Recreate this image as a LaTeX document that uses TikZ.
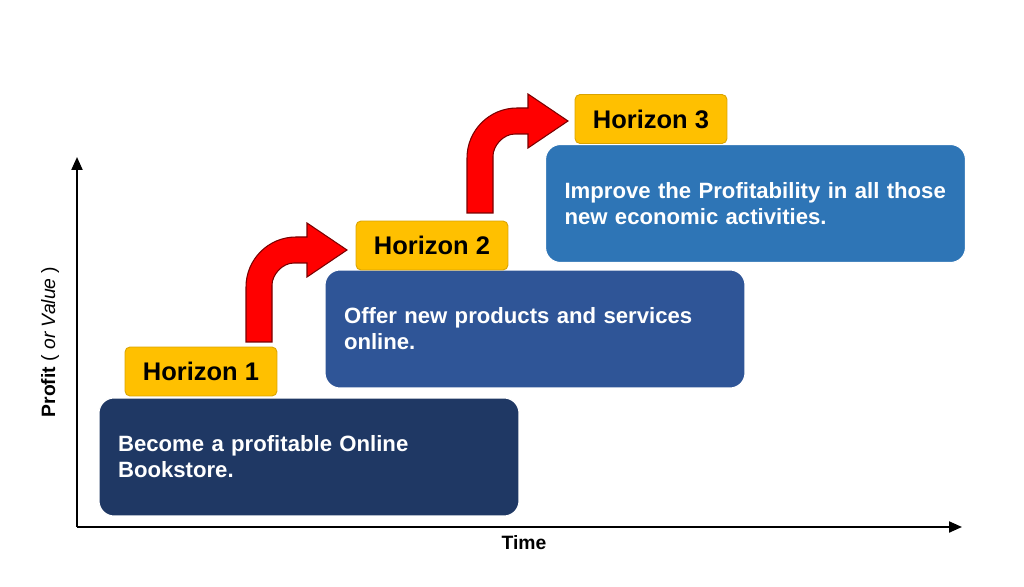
\documentclass[tikz,border=0pt]{standalone}
\usepackage{fontspec}
\setmainfont{Liberation Sans}
\usetikzlibrary{arrows.meta}
\definecolor{navyone}{HTML}{1F3864}
\definecolor{bluetwo}{HTML}{2F5597}
\definecolor{bluethree}{HTML}{2E75B6}
\definecolor{gold}{HTML}{FFC000}
\definecolor{goldline}{HTML}{D9A300}
\definecolor{arrowred}{HTML}{FF0000}
\definecolor{arrowline}{HTML}{7A0000}
\begin{document}
\begin{tikzpicture}[
  x=0.02cm, y=-0.02cm,
  box/.style={rectangle,rounded corners=0.3cm,draw=white,line width=0.6pt,
    minimum width=8.4cm,minimum height=2.36cm,text width=7.64cm,
    inner xsep=0.38cm,align=left,text=white,
    font=\bfseries\fontsize{12.6}{14.8}\selectfont},
  horizon/.style={rectangle,rounded corners=0.1cm,fill=gold,draw=goldline,
    line width=0.5pt,minimum width=3.04cm,minimum height=0.98cm,
    font=\bfseries\fontsize{14.5}{16}\selectfont},
  axis/.style={line width=1.2pt,-{Triangle[length=2.6mm,width=2.2mm]}},
  bendarrow/.pic={
    \draw[fill=arrowred,draw=arrowline,line width=0.6pt]
      (-13,92) -- (-13,37) .. controls (-13,9.4) and (9.4,-13) .. (37,-13)
      -- (48,-13) -- (48,-27) -- (88,0) -- (48,27) -- (48,13) -- (35,13)
      .. controls (22.9,13) and (13,25.1) .. (13,35) -- (13,92) -- cycle;
  }
]
\useasboundingbox (0,0) rectangle (1024,587);
% axes
\coordinate (origin) at (77,527);
\coordinate (ytop) at (77,157);
\coordinate (xend) at (962,527);
\draw[axis] (origin) -- (ytop);
\draw[axis] (origin) -- (xend);
\node[font=\bfseries\fontsize{11}{13}\selectfont] (time) at (524,543) {Time};
\node[rotate=90,font=\fontsize{11}{13}\selectfont] (profit) at (50,342)
  {\textbf{Profit} ( \textit{or Value} )};
% boxes
\node[box,fill=navyone] (box1) at (309,457)
  {Become a profitable Online\\Bookstore.};
\node[box,fill=bluetwo] (box2) at (535,329)
  {Offer new products and services\\online.};
\node[box,fill=bluethree] (box3) at (755.5,203.5)
  {Improve the Profitability in all those\\new economic activities.};
% labels
\node[horizon] (h1) at (201,371.5) {Horizon 1};
\node[horizon] (h2) at (432,245.5) {Horizon 2};
\node[horizon] (h3) at (651,119) {Horizon 3};
% red arrows
\coordinate (bend1) at (259,250);
\coordinate (bend2) at (480,121);
\pic at (bend1) {bendarrow};
\pic at (bend2) {bendarrow};
\end{tikzpicture}
\end{document}
